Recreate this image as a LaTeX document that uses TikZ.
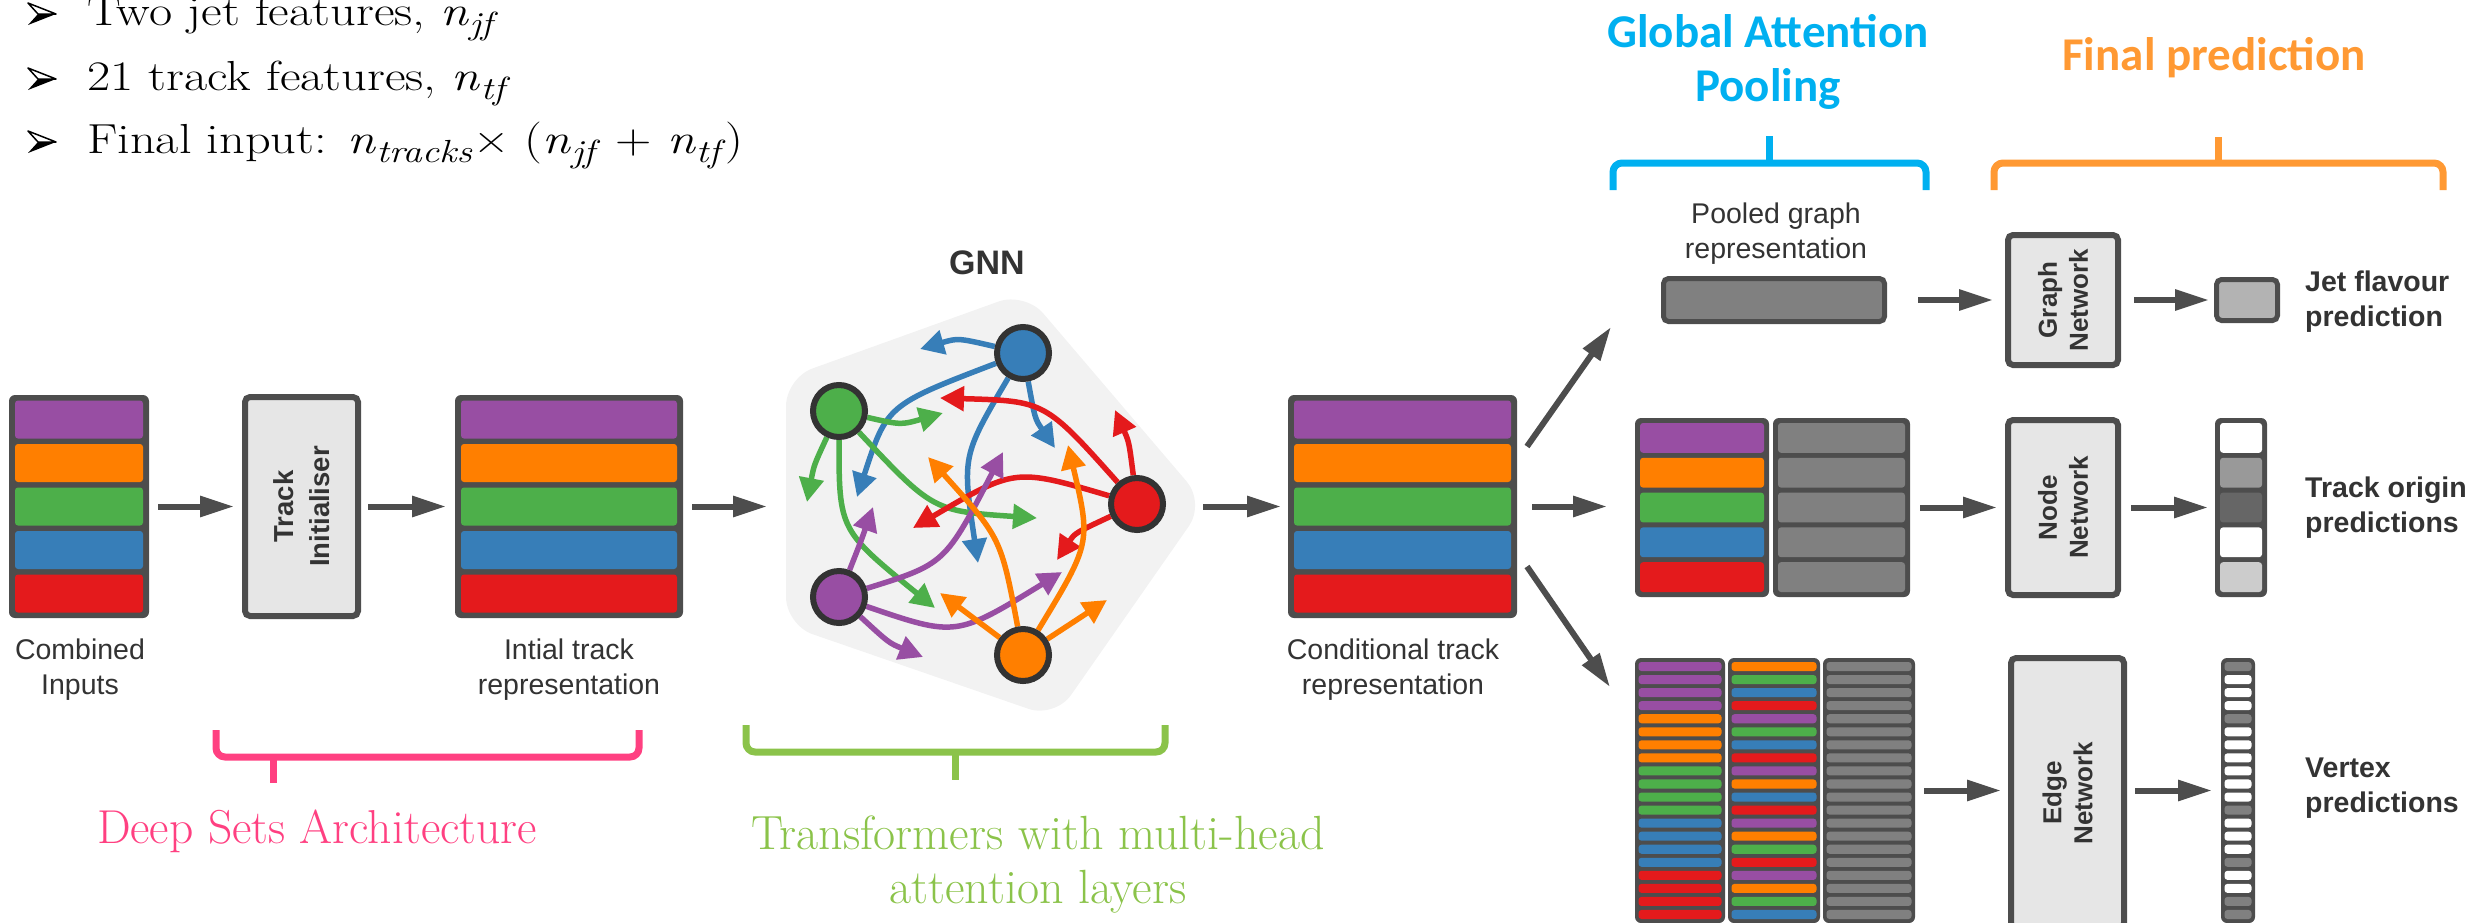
\documentclass[tikz,border=0pt]{standalone}
\usepackage{graphicx}
\usepackage{fontspec}
\newfontfamily\arial{Liberation Sans}
\newfontfamily\calib{Carlito}
\usetikzlibrary{arrows.meta}

\definecolor{dk}{HTML}{4D4D4D}
\definecolor{txt}{HTML}{333333}
\definecolor{ring}{HTML}{333333}
\definecolor{cpur}{HTML}{984EA3}
\definecolor{cora}{HTML}{FF7F00}
\definecolor{cgrn}{HTML}{4DAF4A}
\definecolor{cblu}{HTML}{377EB8}
\definecolor{cred}{HTML}{E41A1C}
\definecolor{cgry}{HTML}{808080}
\definecolor{g99}{HTML}{999999}
\definecolor{g66}{HTML}{666666}
\definecolor{gcc}{HTML}{CCCCCC}
\definecolor{gb3}{HTML}{B3B3B3}
\definecolor{boxfill}{HTML}{E6E6E6}
\definecolor{gnnbg}{HTML}{F2F2F2}
\definecolor{pinkc}{HTML}{FF4081}
\definecolor{limec}{HTML}{8BC34A}
\definecolor{skyc}{HTML}{00B0F0}
\definecolor{orgc}{HTML}{FF9933}

\pgfdeclarelayer{back}
\pgfdeclarelayer{mid}
\pgfsetlayers{back,mid,main}

% italic n with an italic subscript, set as text
\newcommand{\nsub}[1]{\textit{n}\raisebox{-9pt}{\fontsize{32}{32}\selectfont\textit{#1}}}
% wide serif line for the feature list
\newcommand{\wideline}[1]{\scalebox{1.2}[1]{#1}}

% a dark column holding rows of coloured bars
% #1 name, #2 left, #3 right, #4 top, #5 bottom, #6 side inset, #7 gap, #8 rows, #9 colours
\newcommand{\colstack}[9]{%
  \node[stackbox, minimum width={#3-#2}, minimum height={#5-#4}, anchor=north west] (#1) at (#2,#4) {};
  \pgfmathsetmacro{\rowp}{(#5-#4-#7)/#8}
  \foreach \cl [count=\i from 0] in {#9}{
    \fill[fill=\cl, rounded corners=3] ({#2+#6},{#4+#7+\i*\rowp}) rectangle ({#3-#6},{#4+(\i+1)*\rowp});
  }
}

\begin{document}
\begin{tikzpicture}[x=1pt, y=-1pt,
  stackbox/.style={fill=dk, rounded corners=6, inner sep=0, outer sep=0},
  netbox/.style={draw=dk, fill=boxfill, line width=6pt, rounded corners=5, inner sep=0,
    align=center, text=txt, font=\arial\bfseries\fontsize{26}{31}\selectfont},
  flow/.style={draw=dk, line width=6pt, -{Triangle[length=34pt,width=20pt]}},
  gnnarr/.style={line width=5.5pt, -{Triangle[length=24pt,width=24pt]}},
  gnode/.style={circle, draw=ring, line width=6pt, minimum size=52pt, inner sep=0},
  lbl/.style={font=\arial\fontsize{28.5}{35}\selectfont, text=txt, align=center, inner sep=0},
  lblb/.style={font=\arial\bfseries\fontsize{28.5}{35}\selectfont, text=txt, align=left, inner sep=0, anchor=west},
  bul/.style={font=\fontsize{42}{50}\selectfont, inner sep=0, anchor=base west},
  brace/.style={line width=7pt, rounded corners=9},
  tick/.style={line width=7pt}
]
\useasboundingbox (0,0) rectangle (2476,922);
\clip (0,0) rectangle (2476,922);

% ---------- bullet list ----------
\foreach \yb in {25,90,153}{
  \fill[black] (56,\yb-11) -- (38,\yb-11) -- (28,\yb) -- cycle;
  \filldraw[fill=white, draw=black, line width=1.5pt, line join=round] (56,\yb-11) -- (28,\yb-22) -- (38,\yb-11) -- cycle;
}
\node[bul] (b1) at (87,25) {\wideline{Two jet features, \nsub{jf}}};
\node[bul] (b2) at (87,90) {\wideline{21 track features, \nsub{tf}}};
\node[bul] (b3) at (87,153) {\wideline{Final input: \nsub{tracks}\kern1pt×\ (\nsub{jf}\ +\ \nsub{tf})}};

% ---------- deep sets part ----------
\colstack{comb}{9}{149}{395}{618}{6}{5.5}{5}{cpur,cora,cgrn,cblu,cred}
\node[lbl] (combl) at (80,670) {Combined\\Inputs};

\node[netbox, rotate=90, minimum width=219, minimum height=113,
      font=\arial\bfseries\fontsize{27.5}{36}\selectfont] (init) at (301.5,506.5) {Track\\Initialiser};

\colstack{initial}{455}{683}{395}{618}{6}{5.5}{5}{cpur,cora,cgrn,cblu,cred}
\node[lbl] (initl) at (569,670) {Intial track\\representation};

% a node turned by 90 degrees has its north side on the left
\draw[flow, shorten <=9pt, shorten >=8pt] (comb.east) -- (comb.east -| init.north);
\draw[flow, shorten <=7pt, shorten >=9pt] (init.south |- initial.west) -- (initial.west);

% ---------- GNN ----------
\node[font=\arial\bfseries\fontsize{34}{40}\selectfont, text=txt] (gnnt) at (987,263) {GNN};
\begin{pgfonlayer}{back}
  \fill[gnnbg, rounded corners=28] (1025,292) -- (1205,503) -- (1055,718) -- (786,625) -- (786,378) -- cycle;
\end{pgfonlayer}
\coordinate (gnnin) at (767,506.5);
\coordinate (gnnout) at (1203,506.5);

\node[gnode, fill=cblu] (nb) at (1023,353) {};
\node[gnode, fill=cgrn] (ng) at (839,411) {};
\node[gnode, fill=cred] (nr) at (1137,504) {};
\node[gnode, fill=cpur] (np) at (839,597) {};
\node[gnode, fill=cora] (no) at (1023,655) {};

\coordinate (tb1) at (920,349);  \coordinate (tb2) at (857,497);
\coordinate (tb3) at (978,563);  \coordinate (tb4) at (1055,448);
\coordinate (tg1) at (943,413);  \coordinate (tg2) at (807,502);
\coordinate (tg3) at (935,608);  \coordinate (tg4) at (1037,518);
\coordinate (tr1) at (940,398);  \coordinate (tr2) at (1115,410);
\coordinate (tr3) at (913,528);  \coordinate (tr4) at (1057,560);
\coordinate (tp1) at (873,507);  \coordinate (tp2) at (1003,452);
\coordinate (tp3) at (1062,572); \coordinate (tp4) at (923,657);
\coordinate (to1) at (928,457);  \coordinate (to2) at (1068,445);
\coordinate (to3) at (940,593);  \coordinate (to4) at (1107,600);

\begin{pgfonlayer}{mid}
  \draw[gnnarr, cblu] (nb) .. controls (958,338) .. (tb1);
  \draw[gnnarr, cblu] (nb) .. controls (887,405) .. (tb2);
  \draw[gnnarr, cblu] (nb) .. controls (962,456) .. (tb3);
  \draw[gnnarr, cblu] (nb) .. controls (1035,419) .. (tb4);
  \draw[gnnarr, cgrn] (ng) .. controls (901,425) .. (tg1);
  \draw[gnnarr, cgrn] (ng) .. controls (814,465) .. (tg2);
  \draw[gnnarr, cgrn] (ng) .. controls (839,530) .. (tg3);
  \draw[gnnarr, cgrn] (ng) .. controls (933,511) .. (tg4);
  \draw[gnnarr, cred] (nr) .. controls (1045,401) .. (tr1);
  \draw[gnnarr, cred] (nr) .. controls (1129,442) .. (tr2);
  \draw[gnnarr, cred] (nr) .. controls (1015,468) .. (tr3);
  \draw[gnnarr, cred] (nr) .. controls (1075,533) .. (tr4);
  \draw[gnnarr, cpur] (np) .. controls (861,541) .. (tp1);
  \draw[gnnarr, cpur] (np) .. controls (945,564) .. (tp2);
  \draw[gnnarr, cpur] (np) .. controls (956,637) .. (tp3);
  \draw[gnnarr, cpur] (np) .. controls (889,643) .. (tp4);
  \draw[gnnarr, cora] (no) .. controls (1001,538) .. (to1);
  \draw[gnnarr, cora] (no) .. controls (1091,543) .. (to2);
  \draw[gnnarr, cora] (no) -- (to3);
  \draw[gnnarr, cora] (no) -- (to4);
\end{pgfonlayer}

\draw[flow, shorten <=9pt] (initial.east) -- (gnnin);

% ---------- conditional representation ----------
\colstack{cond}{1288}{1517}{395}{618}{6}{5.5}{5}{cpur,cora,cgrn,cblu,cred}
\node[lbl] (condl) at (1393,670) {Conditional track\\representation};
\draw[flow, shorten >=7pt] (gnnout) -- (gnnout -| cond.west);

\path (cond.east) ++(10,-60) coordinate (fromUp);
\path (cond.east) ++(10,60) coordinate (fromDn);
\coordinate (toPool) at (1611,327);
\coordinate (toEdge) at (1610,687);
\draw[flow] (fromUp) -- (toPool);
\draw[flow] (fromDn) -- (toEdge);

% ---------- pooled graph branch ----------
\node[lbl] (pooll) at (1776,234) {Pooled graph\\representation};
\node[draw=dk, fill=cgry, line width=5pt, rounded corners=5, inner sep=0,
      minimum width=221, minimum height=43] (pooled) at (1774,300) {};
\node[netbox, rotate=90, minimum width=130, minimum height=110] (graphnet) at (2063,300) {Graph\\Network};
\node[draw=dk, fill=gb3, line width=5pt, rounded corners=5, inner sep=0,
      minimum width=61, minimum height=41] (jet) at (2247,300) {};
\node[lblb] (jetl) at (2305,302) {Jet flavour\\prediction};
\draw[flow, shorten <=31pt, shorten >=12pt] (pooled.east) -- (pooled.east -| graphnet.north);
\draw[flow, shorten <=13pt, shorten >=5pt] (graphnet.south |- jet.west) -- (jet.west);

% ---------- track (node) branch ----------
\colstack{ncol}{1635}{1769}{418}{597}{5}{5}{5}{cpur,cora,cgrn,cblu,cred}
\colstack{ngry}{1773}{1910}{418}{597}{5}{5}{5}{cgry,cgry,cgry,cgry,cgry}
\draw[flow, shorten <=15pt, shorten >=28pt] (cond.east) -- (cond.east -| ncol.west);
\node[netbox, rotate=90, minimum width=175, minimum height=110] (nodenet) at (2063,507.5) {Node\\Network};
\colstack{tout}{2215}{2267}{418}{597}{5}{5}{5}{white,g99,g66,white,gcc}
\node[lblb] (toutl) at (2305,508) {Track origin\\predictions};
\draw[flow, shorten <=10pt, shorten >=8pt] (ngry.east) -- (ngry.east -| nodenet.north);
\draw[flow, shorten <=10pt, shorten >=7pt] (nodenet.south |- tout.west) -- (tout.west);

% ---------- edge branch ----------
\colstack{e1}{1635}{1725}{658}{923}{3.5}{4}{20}{cpur,cpur,cpur,cpur,cora,cora,cora,cora,cgrn,cgrn,cgrn,cgrn,cblu,cblu,cblu,cblu,cred,cred,cred,cred}
\colstack{e2}{1728}{1820}{658}{923}{3.5}{4}{20}{cora,cgrn,cblu,cred,cpur,cgrn,cblu,cred,cpur,cora,cblu,cred,cpur,cora,cgrn,cred,cpur,cora,cgrn,cblu}
\colstack{e3}{1823}{1915}{658}{923}{3.5}{4}{20}{cgry,cgry,cgry,cgry,cgry,cgry,cgry,cgry,cgry,cgry,cgry,cgry,cgry,cgry,cgry,cgry,cgry,cgry,cgry,cgry}
\node[netbox, rotate=90, minimum width=270, minimum height=113] (edgenet) at (2067.5,793) {Edge\\Network};
\colstack{vcol}{2221}{2255}{658}{923}{3.5}{4}{20}{cgry,white,white,white,cgry,white,white,white,white,white,white,cgry,white,white,white,cgry,white,white,cgry,cgry}
\node[lblb] (vcoll) at (2305,788) {Vertex\\predictions};
\draw[flow, shorten <=9pt, shorten >=7pt] (e3.east) -- (e3.east -| edgenet.north);
\draw[flow, shorten <=8pt, shorten >=9pt] (edgenet.south |- e3.east) -- (vcol.west |- e3.east);

% ---------- group brackets and titles ----------
\draw[brace, pinkc] (216,730) -- (216,757) -- (639,757) -- (639,730);
\draw[tick, pinkc] (273,757) -- (273,783);
\node[font=\fontsize{47.6}{54}\selectfont, text=pinkc, anchor=base] (dsa) at (317,843) {Deep Sets Architecture};

\draw[brace, limec] (746,725) -- (746,752) -- (1165,752) -- (1165,725);
\draw[tick, limec] (955,752) -- (955,780);
\node[font=\fontsize{48}{54}\selectfont, text=limec, align=center] (tfm) at (1038,865) {Transformers with multi-head\\attention layers};

\draw[brace, skyc] (1613,190) -- (1613,163) -- (1926,163) -- (1926,190);
\draw[tick, skyc] (1769,163) -- (1769,136);
\node[font=\calib\bfseries\fontsize{47}{54}\selectfont, text=skyc, align=center] (gap) at (1768,62) {Global Attention\\Pooling};

\draw[brace, orgc] (1994,190) -- (1994,163) -- (2443,163) -- (2443,190);
\draw[tick, orgc] (2218,163) -- (2218,137);
\node[font=\calib\bfseries\fontsize{47}{54}\selectfont, text=orgc, anchor=base] (fpr) at (2214,70) {Final prediction};
\end{tikzpicture}
\end{document}
